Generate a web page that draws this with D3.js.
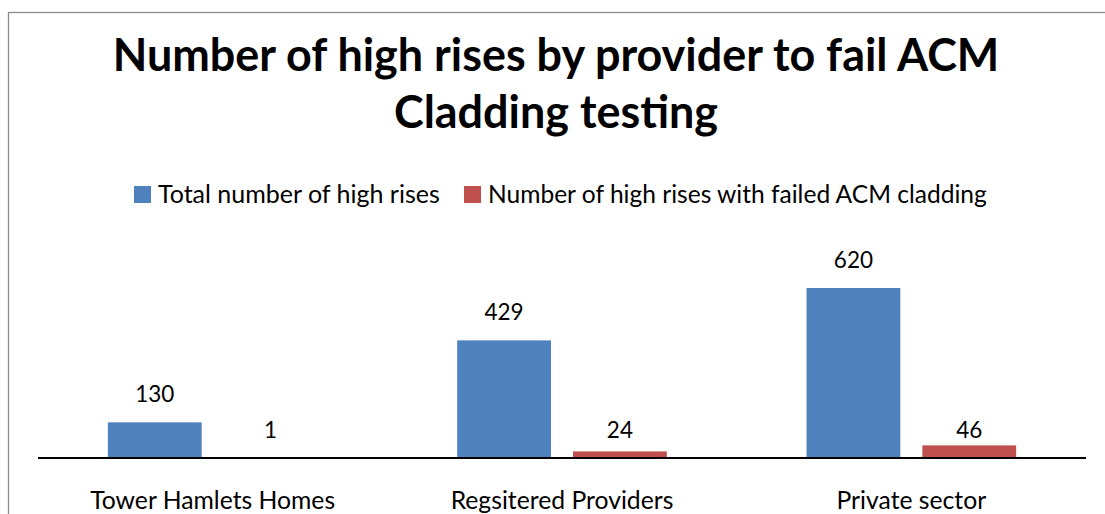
<!DOCTYPE html>
<html>
<head>
<meta charset="utf-8">
<script src="https://cdn.jsdelivr.net/npm/d3@7"></script>
<style>
  body { margin: 0; background: #fff; }
  svg { display: block; }
  text { font-family: Lato, 'Open Sans', sans-serif; fill: #000; }
</style>
</head>
<body>
<div id="chart"></div>
<script>
// --- Data ---
const categories = ['Tower Hamlets Homes', 'Regsitered Providers', 'Private sector'];
const seriesNames = ['Total number of high rises', 'Number of high rises with failed ACM cladding'];
const totalValues = [130, 429, 620];
const failedValues = [1, 24, 46];
const seriesColors = ['#4F81BD', '#C0504D'];
const titleLines = ['Number of high rises by provider to fail ACM', 'Cladding testing'];

// --- Layout ---
const W = 1105, H = 514;
const plot = {left: 38, right: 1086, base: 458, top: 288};
const legendTextW = [282, 499];

// shrink/grow font so text hits a measured target width
function fitWidth(sel, target) {
    const w = sel.node().getComputedTextLength();
    const fs = parseFloat(sel.style('font-size'));
    const nfs = fs * target / w;
    sel.style('font-size', nfs + 'px');
    return nfs;
}

const svg = d3.select('#chart').append('svg')
    .attr('width', W).attr('height', H);

// chart frame (cropped on right/bottom)
svg.append('rect')
    .attr('x', 8.5).attr('y', 12.5)
    .attr('width', 1110).attr('height', 600)
    .attr('fill', 'none').attr('stroke', '#8c8c8c').attr('stroke-width', 1.3);

// --- Title ---
const t1 = svg.append('text')
    .attr('x', 556).attr('y', 71)
    .attr('text-anchor', 'middle')
    .style('font-weight', '700').style('font-size', '40px')
    .text(titleLines[0]);
const titleSize = fitWidth(t1, 887);
svg.append('text')
    .attr('x', 556).attr('y', 128)
    .attr('text-anchor', 'middle')
    .style('font-weight', '700').style('font-size', titleSize + 'px')
    .text(titleLines[1]);

// --- Legend ---
const legend = svg.append('g');
let lx = 134;
seriesNames.forEach((name, i) => {
    legend.append('rect')
        .attr('x', lx).attr('y', 186)
        .attr('width', 17).attr('height', 17)
        .attr('fill', seriesColors[i]);
    const t = legend.append('text')
        .attr('x', lx + 24).attr('y', 203)
        .style('font-size', '22px')
        .text(name);
    fitWidth(t, legendTextW[i]);
    lx += 24 + legendTextW[i] + 24;
});

// --- Scales ---
const x0 = d3.scaleBand()
    .domain(categories)
    .range([plot.left, plot.right]);

const gapW = x0.bandwidth() * 1.5 / 3.5 - 10;
const x1 = d3.scaleBand()
    .domain(seriesNames)
    .range([gapW / 2, x0.bandwidth() - gapW / 2])
    .paddingInner(0.19);

const y = d3.scaleLinear()
    .domain([0, d3.max(totalValues)])
    .range([plot.base, plot.top]);

const rows = categories.map((c, i) => ({
    cat: c,
    vals: [
        {series: seriesNames[0], v: totalValues[i], s: 0},
        {series: seriesNames[1], v: failedValues[i], s: 1}
    ]
}));

// --- Bars ---
const groups = svg.selectAll('g.cat')
    .data(rows)
    .join('g')
    .attr('class', 'cat')
    .attr('transform', d => `translate(${x0(d.cat)},0)`);

groups.selectAll('rect')
    .data(d => d.vals)
    .join('rect')
    .attr('x', d => x1(d.series))
    .attr('y', d => y(d.v))
    .attr('width', x1.bandwidth())
    .attr('height', d => y(0) - y(d.v))
    .attr('fill', d => seriesColors[d.s]);

// value labels (failed series labels sit on a common line above the axis)
const valSize = 22.5;
groups.selectAll('text.val')
    .data(d => d.vals)
    .join('text')
    .attr('class', 'val')
    .attr('x', d => x1(d.series) + x1.bandwidth() / 2)
    .attr('y', d => (d.s === 0 ? y(d.v) : y(0)) - 20)
    .attr('text-anchor', 'middle')
    .style('font-size', valSize + 'px')
    .text(d => d.v);

// --- Category axis ---
const axis = svg.append('g')
    .attr('transform', `translate(0,${plot.base})`)
    .call(d3.axisBottom(x0).tickSize(0).tickPadding(33));
axis.select('.domain').remove();
axis.append('line')
    .attr('x1', x0.range()[0]).attr('x2', x0.range()[1])
    .attr('y1', 0).attr('y2', 0)
    .attr('stroke', '#000').attr('stroke-width', 2);
axis.selectAll('.tick text')
    .attr('fill', '#000')
    .style('font-family', "Lato, 'Open Sans', sans-serif")
    .style('font-size', '22px');
const firstTick = axis.select('.tick text');
const catSize = fitWidth(firstTick, 245);
axis.selectAll('.tick text').style('font-size', catSize + 'px');
</script>
</body>
</html>
